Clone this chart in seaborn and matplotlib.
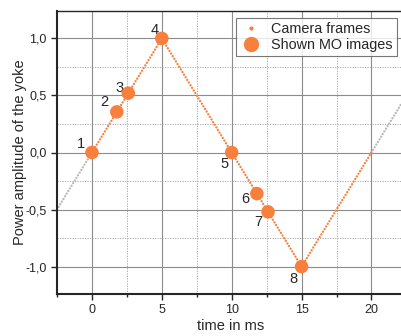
import numpy as np
import pandas as pd
import matplotlib
matplotlib.use('Agg')
import matplotlib.pyplot as plt
import seaborn as sns
from matplotlib.lines import Line2D
from matplotlib.ticker import MultipleLocator, FuncFormatter

# ===== data =====
# camera frames follow the triangle wave (vertices)
frame_t = [0, 5, 10, 15, 20]
frame_amp = [0, 1, 0, -1, 0]
# grey continuation outside the shown period
pre_t = [-2.5, 0]
pre_amp = [-0.5, 0]
post_t = [20, 22.5]
post_amp = [0, 0.5]
# shown MO images
mo_t = [0, 1.78, 2.6, 5, 10, 11.8, 12.6, 15]
mo_amp = [0, 0.356, 0.52, 1, 0, -0.36, -0.52, -1]
mo_labels = ['1', '2', '3', '4', '5', '6', '7', '8']
# label offsets (points)
mo_offsets = [(-8, 6), (-9, 7), (-6, 4), (-5, 6), (-5, -8), (-8, -4), (-7, -7), (-6, -9)]

orange = '#F8803C'
grey = '#B8B8B8'

sns.set_style('ticks')
plt.rcParams['font.family'] = ['Liberation Sans', 'DejaVu Sans']

fig = plt.figure(figsize=(4.01, 3.36), dpi=100)
ax = fig.add_axes([57 / 401, 42 / 336, 348 / 401, 283 / 336])

dots = dict(linestyle=(0, (0.01, 1.3)), dash_capstyle='round', linewidth=1.7)
sns.lineplot(x=pre_t, y=pre_amp, color=grey, ax=ax, **dots)
sns.lineplot(x=post_t, y=post_amp, color=grey, ax=ax, **dots)
sns.lineplot(x=frame_t, y=frame_amp, color=orange, ax=ax, **dots)
sns.scatterplot(x=mo_t, y=mo_amp, color=orange, s=95, edgecolor='none', ax=ax, zorder=5)

for t, a, lab, off in zip(mo_t, mo_amp, mo_labels, mo_offsets):
    ax.annotate(lab, (t, a), xytext=off, textcoords='offset points',
                ha='center', va='center', fontsize=10.5)

ax.set_xlim(-2.5, 22.4)
ax.set_ylim(-1.24, 1.24)
ax.xaxis.set_major_locator(MultipleLocator(5))
ax.xaxis.set_minor_locator(MultipleLocator(2.5))
ax.yaxis.set_major_locator(MultipleLocator(0.5))
ax.yaxis.set_minor_locator(MultipleLocator(0.25))
ax.yaxis.set_major_formatter(FuncFormatter(lambda v, p: f'{v:.1f}'.replace('.', ',')))

ax.grid(which='major', color='#8c8c8c', linewidth=0.8)
ax.grid(which='minor', color='#a0a0a0', linewidth=0.6, linestyle=(0, (1.5, 1.5)))
ax.set_axisbelow(True)

ax.tick_params(which='major', direction='out', length=4, width=1, labelsize=9)
ax.tick_params(axis='y', which='minor', length=0)
ax.tick_params(axis='x', which='minor', direction='out', length=2.5, width=1)
for side in ['left', 'bottom']:
    ax.spines[side].set_linewidth(1.5)
ax.spines['top'].set_linewidth(1.0)
ax.spines['right'].set_visible(False)

ax.set_xlabel('time in ms', fontsize=10.5, labelpad=2)
ax.set_ylabel('Power amplitude of the yoke', fontsize=10.5, labelpad=-1)

handles = [
    Line2D([], [], marker='o', color=orange, markersize=2, linestyle='none'),
    Line2D([], [], marker='o', color=orange, markersize=10, linestyle='none'),
]
leg = fig.legend(handles, ['Camera frames', 'Shown MO images'], loc='upper left',
                 bbox_to_anchor=(236 / 401, 1 - 18 / 336), fontsize=10.4,
                 frameon=True, fancybox=False, borderpad=0.25, handletextpad=0.6,
                 labelspacing=0.2, handlelength=1.6, borderaxespad=0)
leg.get_frame().set_edgecolor('#555555')
leg.get_frame().set_linewidth(0.8)

fig.savefig('out.png', dpi=100)
